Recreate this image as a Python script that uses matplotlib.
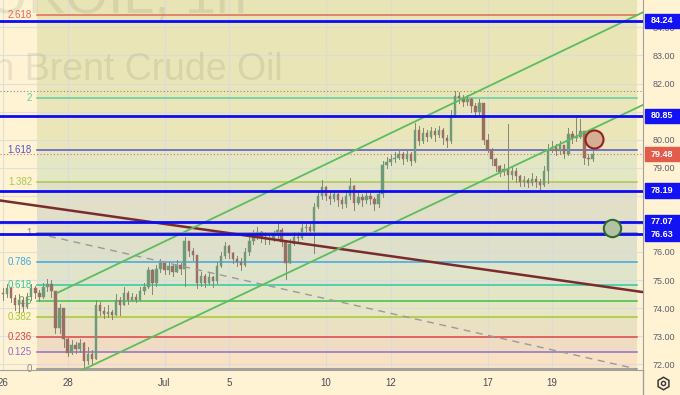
import matplotlib.pyplot as plt
import matplotlib.transforms as mtransforms
from matplotlib.lines import Line2D
from matplotlib.patches import Rectangle
import numpy as np

plt.rcParams['font.family'] = ['Liberation Sans', 'DejaVu Sans']

# x axis: 3h bars, 8 bars per trading day, bar 0 = Jun 26
BARS_PER_DAY = 8
day_ticks = [0, 2, 5, 7, 10, 12, 15, 17]
day_labels = ['26', '28', 'Jul', '5', '10', '12', '17', '19']

first_open = 74.55
closes = [
    74.5, 74.7, 74.35, 74.1, 74.3, 74.05, 74.4, 74.7, 74.55, 74.4,
    74.75, 74.85, 74.6, 73.3, 74.0, 72.9, 72.4, 72.7, 72.55, 72.75,
    72.1, 72.35, 72.2, 74.1, 73.9, 73.8, 73.85, 73.75, 74.3, 74.1,
    74.55, 74.3, 74.4, 74.3, 74.6, 74.75, 75.35, 74.9, 75.4, 75.6,
    75.35, 75.5, 75.3, 75.55, 75.4, 76.4, 76.05, 75.9, 74.9, 75.15,
    74.9, 75.1, 74.95, 75.5, 75.85, 76.2, 75.95, 75.75, 75.65, 75.55,
    76.0, 76.4, 76.65, 76.7, 76.55, 76.45, 76.5, 76.6, 76.8, 76.35,
    75.6, 76.3, 76.55, 76.5, 76.85, 76.9, 76.75, 77.6, 78.0, 78.3,
    78.0, 77.9, 78.05, 77.85, 77.7, 78.0, 78.35, 77.75, 77.95, 77.85,
    78.0, 77.9, 77.7, 78.05, 79.1, 79.2, 79.3, 79.35, 79.5, 79.3,
    79.5, 79.25, 80.35, 79.95, 80.25, 80.1, 80.3, 80.15, 80.35, 80.05,
    79.95, 80.85, 81.55, 81.5, 81.35, 81.45, 81.2, 81.0, 81.3, 80.0,
    79.65, 79.3, 79.05, 78.85, 78.95, 78.75, 78.9, 78.7, 78.5, 78.55,
    78.45, 78.6, 78.5, 78.4, 78.9, 79.65, 79.75, 79.6, 79.8, 79.5,
    80.2, 80.05, 80.1, 80.3, 79.35, 79.3, 79.48]
highs = [
    74.7, 74.85, 74.75, 74.45, 74.5, 74.4, 74.55, 74.85, 74.8, 74.65,
    74.9, 75.05, 75.0, 74.6, 74.15, 74.0, 72.95, 72.85, 72.8, 72.9,
    72.8, 72.6, 72.5, 74.3, 74.2, 74.05, 74.1, 73.95, 74.5, 74.4,
    74.75, 74.6, 74.55, 74.5, 74.75, 74.9, 75.45, 75.4, 75.55, 75.75,
    75.65, 75.65, 75.55, 75.7, 75.6, 76.55, 76.35, 76.15, 75.9, 75.3,
    75.2, 75.25, 75.15, 75.65, 76.0, 76.35, 76.25, 76.0, 75.85, 75.8,
    76.15, 76.55, 76.8, 76.9, 76.75, 76.7, 76.65, 76.75, 77.05, 76.85,
    76.4, 76.45, 76.7, 76.7, 77.0, 77.05, 77.0, 77.75, 78.15, 78.55,
    78.35, 78.15, 78.2, 78.1, 77.95, 78.2, 78.65, 78.4, 78.1, 78.05,
    78.15, 78.1, 77.95, 78.2, 79.25, 79.4, 79.45, 79.55, 79.65, 79.55,
    79.65, 79.55, 80.6, 80.5, 80.4, 80.35, 80.45, 80.4, 80.5, 80.4,
    80.15, 81.05, 81.75, 81.7, 81.6, 81.6, 81.5, 81.3, 81.45, 81.3,
    80.2, 79.7, 79.35, 79.1, 79.15, 80.55, 79.05, 79.0, 78.75, 78.7,
    78.65, 78.8, 78.7, 78.6, 79.05, 79.85, 79.95, 79.85, 79.95, 79.8,
    80.4, 80.3, 80.85, 80.75, 80.3, 79.5, 79.6]
lows = [
    74.3, 74.4, 74.2, 73.95, 73.85, 73.9, 74.0, 74.3, 74.35, 74.25,
    74.35, 74.6, 74.4, 73.1, 73.1, 72.6, 72.3, 72.35, 72.4, 72.45,
    71.85, 72.0, 72.0, 72.2, 73.75, 73.65, 73.7, 73.6, 73.9, 73.75,
    74.1, 74.15, 74.25, 74.2, 74.3, 74.5, 74.7, 74.5, 74.8, 75.3,
    75.2, 75.2, 75.15, 75.3, 75.2, 74.8, 75.85, 75.7, 74.7, 74.8,
    74.75, 74.85, 74.75, 74.9, 75.45, 75.8, 75.8, 75.6, 75.5, 75.35,
    75.5, 75.9, 76.3, 76.45, 76.35, 76.3, 76.3, 76.4, 76.5, 76.2,
    75.05, 75.6, 76.25, 76.35, 76.45, 76.7, 76.6, 75.95, 77.55, 77.9,
    77.85, 77.7, 77.8, 77.65, 77.55, 77.6, 77.9, 77.5, 77.7, 77.65,
    77.75, 77.7, 77.5, 77.6, 77.95, 79.0, 79.1, 79.2, 79.3, 79.15,
    79.25, 79.1, 79.2, 79.8, 79.9, 79.95, 80.05, 79.95, 80.1, 79.85,
    79.75, 79.9, 80.8, 81.3, 81.2, 81.25, 81.0, 80.8, 80.9, 79.85,
    79.55, 79.1, 78.9, 78.7, 78.75, 78.2, 78.6, 78.5, 78.35, 78.35,
    78.3, 78.4, 78.3, 78.2, 78.35, 78.45, 79.55, 79.45, 79.5, 79.35,
    79.45, 79.9, 79.95, 80.05, 79.15, 79.1, 79.25]

sr_levels = [84.24, 80.85, 78.19, 77.07, 76.63]
last_price = 79.48
prev_high = 81.75
price_ticks = [72, 73, 74, 75, 76, 78, 79, 80, 81, 82, 83, 84]  # 77.00 sits under the boxes

# fib extension
fib_low, fib_high = 71.84, 76.66
fib_start, fib_end = 8.4, 157.0
fib_ratios = [0, 0.125, 0.236, 0.382, 0.5, 0.618, 0.786, 1, 1.382, 1.618, 2, 2.618]
fib_labels = ['0', '0.125', '0.236', '0.382', '0.5', '0.618', '0.786', '1',
              '1.382', '1.618', '2', '2.618']
fib_colors = ['#8c8c8c', '#8f6fc8', '#e04444', '#a6c836', '#44bf44', '#2fc8a0',
              '#3fa6e0', '#8c8c8c', '#a6c850', '#5555c8', '#5ccf9f', '#e06a5a']
fib_fills = ['#f9e2c4', '#f0dcc3', '#eae0c2', '#e6e5c4', '#e2e6c7', '#e0e4cb',
             '#dfe0c9', '#e1dfc8', '#e4e7c4', '#ebe6b9', '#e9e5b7', '#e9e4b6']

# drawn lines as (bar, price) pairs
red_line = [(-1.0, 77.84), (159.0, 74.56)]
channel_top = [(13.4, 74.54), (158.5, 84.54)]
channel_bot = [(13.4, 71.37), (158.5, 81.24)]
fib_diag = [(fib_start, fib_high), (fib_end, 71.83)]
red_circle = (146.4, 80.02)
green_circle = (150.8, 76.85)

bg = '#fff3d4'
fig = plt.figure(figsize=(6.8, 3.95), dpi=100, facecolor=bg)
ax = fig.add_axes([0, 25 / 395, 643 / 680, 370 / 395], facecolor=bg)
ax.set_xlim(-0.74, 158.5)
ax.set_ylim(71.795, 84.977)

# fib background bands
levels = [fib_low + r * (fib_high - fib_low) for r in fib_ratios] + [90]
for i in range(len(fib_fills)):
    ax.fill_between([fib_start, fib_end], levels[i], levels[i + 1],
                    color=fib_fills[i], lw=0, zorder=1)

# grid
for p in range(72, 85):
    ax.axhline(p, color='#d6dbe2', lw=0.8, alpha=0.8, zorder=1.5)
for d in day_ticks:
    ax.axvline(d * BARS_PER_DAY, color='#d6dbe2', lw=0.8, alpha=0.8, zorder=1.5)

# watermark
ax.text(247 / 643, 1 - 13 / 370, 'UKOIL, 1h', transform=ax.transAxes, ha='right',
        va='baseline', fontsize=40, color='#707060', alpha=0.14, zorder=1.6)
ax.text(283 / 643, 1 - 80 / 370, 'London Brent Crude Oil', transform=ax.transAxes,
        ha='right', va='baseline', fontsize=27, color='#707060', alpha=0.14, zorder=1.6)

# fib level lines and labels
for lv, lab, col in zip(levels, fib_labels, fib_colors):
    ax.plot([fib_start, fib_end], [lv, lv], color=col, lw=1.1, zorder=2)
    ax.text(7.2, lv, lab, color=col, fontsize=7, ha='right', va='center', zorder=2)

ax.axhline(prev_high, color='#8a8a8a', lw=0.8, ls=(0, (1, 2)), zorder=2)
ax.axhline(last_price, color='#e07060', lw=0.8, ls=(0, (1, 2)), zorder=2)

# candles
x = np.arange(len(closes))
opens = [first_open] + closes[:-1]
for i in x:
    o, c = opens[i], closes[i]
    hi = max(highs[i], o, c)
    lo = min(lows[i], o, c)
    col = '#6f9a7a' if c >= o else '#9a6e62'
    ax.plot([i, i], [lo, hi], color='#858575', lw=0.7, zorder=3)
    ax.bar(i, max(abs(c - o), 0.03), bottom=min(o, c), width=0.6,
           color=col, edgecolor=col, lw=0.3, zorder=4)

# trend lines
ax.plot(*zip(*fib_diag), color='#9a9a9a', lw=1, ls=(0, (5, 4)), zorder=5)
ax.plot(*zip(*red_line), color='#7a2b2b', lw=1.8, zorder=5)
ax.plot(*zip(*channel_top), color='#5cbd5c', lw=1.3, zorder=5)
ax.plot(*zip(*channel_bot), color='#5cbd5c', lw=1.3, zorder=5)

for p in sr_levels:
    ax.axhline(p, color='#0c0cf2', lw=2.0, zorder=6)

ax.plot(*red_circle, 'o', ms=13, mfc='#d4b092', mec='#952020', mew=1.5, zorder=7)
ax.plot(*green_circle, 'o', ms=12.5, mfc='#b2c2a3', mec='#2d6a2d', mew=1.5, zorder=7)

# axes styling
ax.yaxis.tick_right()
ax.set_yticks(price_ticks)
ax.set_yticklabels(['%.2f' % p for p in price_ticks])
ax.set_xticks([d * BARS_PER_DAY for d in day_ticks])
ax.set_xticklabels(day_labels)
ax.tick_params(axis='y', length=0, pad=7, labelsize=6.5, labelcolor='#5d606b')
ax.tick_params(axis='x', length=0, pad=6, labelsize=7, labelcolor='#4a4d57')
for s in ['top', 'left']:
    ax.spines[s].set_visible(False)
for s in ['right', 'bottom']:
    ax.spines[s].set_color('#a0a0a0')
fig.add_artist(Line2D([643 / 680, 643 / 680], [0, 25 / 395], color='#a0a0a0',
                      lw=1, transform=fig.transFigure))

# price axis boxes
trans = mtransforms.blended_transform_factory(ax.transAxes, ax.transData)
for p, col in [(p, '#1212f2') for p in sr_levels] + [(last_price, '#e35b4b')]:
    ax.add_patch(Rectangle((645 / 643, p - 0.25), 35 / 643, 0.5, transform=trans,
                           color=col, clip_on=False, zorder=10))
    ax.text(662 / 643, p, '%.2f' % p, transform=trans, ha='center', va='center',
            color='white', fontsize=6.5, fontweight='bold', clip_on=False, zorder=11)

# settings icon
fig.add_artist(Line2D([663 / 680], [12 / 395], marker='h', ms=9, mfc='none',
                      mec='#3a3a3a', mew=1.1, transform=fig.transFigure))
fig.add_artist(Line2D([663 / 680], [12 / 395], marker='o', ms=3, mfc='none',
                      mec='#3a3a3a', mew=1.0, transform=fig.transFigure))

fig.savefig('out.png', dpi=100, facecolor=bg)
